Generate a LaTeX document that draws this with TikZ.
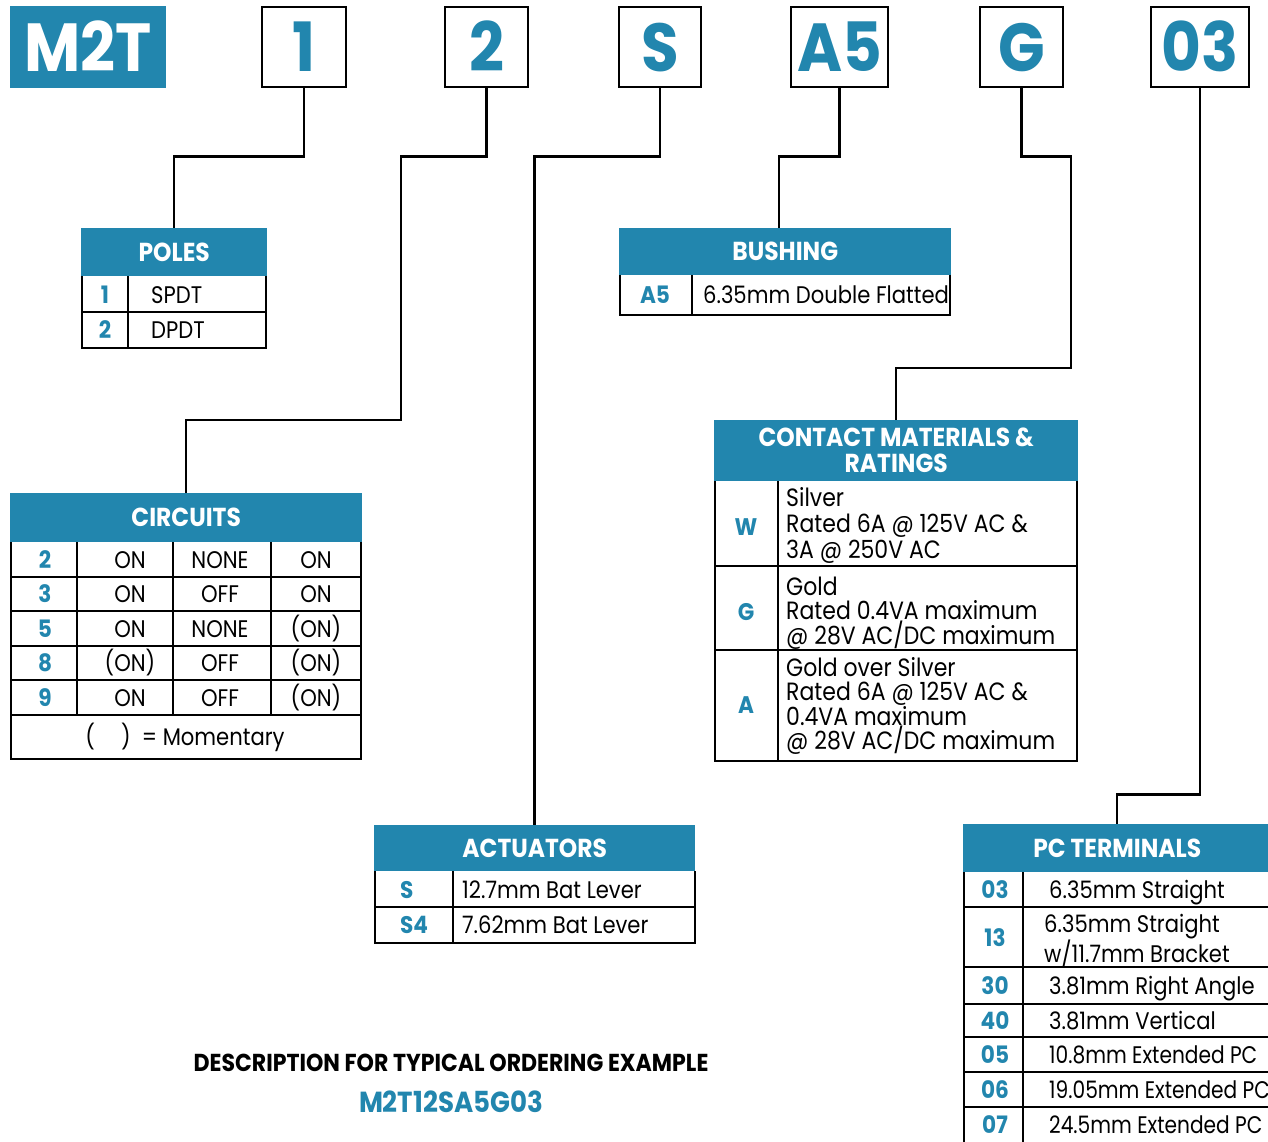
\documentclass[tikz,border=0pt]{standalone}
\usepackage{fontspec}
\setmainfont{Poppins}[UprightFeatures={FakeStretch=0.88}, BoldFeatures={FakeStretch=0.9}]
\newfontfamily\narrowfont{Poppins}[FakeStretch=0.84]
\usetikzlibrary{positioning}
\definecolor{mtblue}{RGB}{34,134,174}

\tikzset{
  codebox/.style={draw, line width=2.5pt, minimum height=80pt, inner sep=0pt, text=mtblue,
    text height=48pt, text depth=0pt, font=\fontsize{68}{68}\selectfont\bfseries},
  head/.style={fill=mtblue, text=white, inner sep=0pt, anchor=north west,
    font=\fontsize{26}{26}\selectfont\bfseries},
  key/.style={text=mtblue, inner sep=0pt, text height=17pt, text depth=0pt,
    font=\fontsize{24}{24}\selectfont\bfseries},
  txt/.style={inner sep=0pt, text height=17pt, text depth=0pt, font=\fontsize{24}{24}\selectfont},
  cell/.style={txt, anchor=west},
  ext/.style={cell, font=\fontsize{24}{24}\narrowfont},
  rated/.style={inner sep=0pt, anchor=west, align=left, font=\fontsize{25}{24.5}\selectfont},
  frame/.style={line width=2.5pt},
  grid/.style={line width=1.5pt},
  wire/.style={line width=2.5pt},
}

\begin{document}
\begin{tikzpicture}[x=1pt,y=-1pt]
  \useasboundingbox (0,0) rectangle (1268,1141);

  % part number
  \node[fill=mtblue, text=white, minimum width=156pt, minimum height=82pt, inner sep=0pt,
    text height=48pt, text depth=0pt, font=\fontsize{68}{68}\selectfont\bfseries] (m2t) at (88,47) {M2T};
  \node[codebox, minimum width=84pt] (c1) at (304,47) {1};
  \node[codebox, minimum width=83pt] (c2) at (486.5,47) {2};
  \node[codebox, minimum width=82pt] (cS) at (660,47) {S};
  \node[codebox, minimum width=97pt] (cA) at (839.5,47) {A5};
  \node[codebox, minimum width=83pt] (cG) at (1021.5,47) {G};
  \node[codebox, minimum width=98pt] (c03) at (1200,47) {03};

  % poles
  \node[head, minimum width=186pt, minimum height=48pt] (poles) at (81,228) {POLES};
  \draw[frame] (82,276) -- (82,348) -- (266,348) -- (266,276);
  \draw[grid] (128,276) -- (128,348) (82,312) -- (266,312);
  \node[key] (p1) at (105,295) {1};
  \node[cell] (p1t) at (151,295) {SPDT};
  \node[key] (p2) at (105,330) {2};
  \node[cell] (p2t) at (151,330) {DPDT};

  % bushing
  \node[head, minimum width=332pt, minimum height=47pt] (bush) at (619,228) {BUSHING};
  \draw[frame] (620,275) -- (620,315) -- (950,315) -- (950,275);
  \draw[grid] (692,275) -- (692,315);
  \node[key] (bA5) at (655,295) {A5};
  \node[cell] (bA5t) at (703,295) {6.35mm Double Flatted};

  % circuits
  \node[head, minimum width=352pt, minimum height=49pt] (circ) at (10,493) {CIRCUITS};
  \draw[frame] (11,542) -- (11,759) -- (361,759) -- (361,542);
  \draw[grid] (11,577) -- (361,577) (11,611) -- (361,611) (11,646) -- (361,646)
    (11,680) -- (361,680) (11,715) -- (361,715)
    (77,542) -- (77,715) (173,542) -- (173,715) (271,542) -- (271,715);
  \node[key] (k2) at (45,559.5) {2};
  \node[txt] (k2a) at (130,559.5) {ON};
  \node[txt] (k2b) at (220,559.5) {NONE};
  \node[txt] (k2c) at (316,559.5) {ON};
  \node[key] (k3) at (45,594) {3};
  \node[txt] (k3a) at (130,594) {ON};
  \node[txt] (k3b) at (220,594) {OFF};
  \node[txt] (k3c) at (316,594) {ON};
  \node[key] (k5) at (45,628.5) {5};
  \node[txt] (k5a) at (130,628.5) {ON};
  \node[txt] (k5b) at (220,628.5) {NONE};
  \node[txt] (k5c) at (316,628.5) {(ON)};
  \node[key] (k8) at (45,663) {8};
  \node[txt] (k8a) at (130,663) {(ON)};
  \node[txt] (k8b) at (220,663) {OFF};
  \node[txt] (k8c) at (316,663) {(ON)};
  \node[key] (k9) at (45,697.5) {9};
  \node[txt] (k9a) at (130,697.5) {ON};
  \node[txt] (k9b) at (220,697.5) {OFF};
  \node[txt] (k9c) at (316,697.5) {(ON)};
  \node[txt] (mom) at (185,737) {(\hspace{26pt})\ \ = Momentary};

  % actuators
  \node[head, minimum width=321pt, minimum height=46pt] (act) at (374,825) {ACTUATORS};
  \draw[frame] (375,871) -- (375,943) -- (695,943) -- (695,871);
  \draw[grid] (375,907) -- (695,907) (453,871) -- (453,943);
  \node[key, anchor=west] (aS) at (400,890) {S};
  \node[cell] (aSt) at (462,890) {12.7mm Bat Lever};
  \node[key, anchor=west] (aS4) at (400,925) {S4};
  \node[cell] (aS4t) at (462,925) {7.62mm Bat Lever};

  % contact materials
  \node[head, minimum width=364pt, minimum height=61pt, align=center] (cont) at (714,420)
    {CONTACT MATERIALS \&\\RATINGS};
  \draw[frame] (715,481) -- (715,761) -- (1077,761) -- (1077,481);
  \draw[grid] (715,566) -- (1077,566) (715,650) -- (1077,650) (778,481) -- (778,761);
  \node[key] (mW) at (746,527) {W};
  \node[rated, font=\fontsize{25}{26}\selectfont] (mWt) at (786,525) {Silver\\Rated 6A @ 125V AC \&\\3A @ 250V AC};
  \node[key] (mG) at (746,612) {G};
  \node[rated] (mGt) at (786,613) {Gold\\Rated 0.4VA maximum\\@ 28V AC/DC maximum};
  \node[key] (mA) at (746,705) {A};
  \node[rated] (mAt) at (786,706) {Gold over Silver\\Rated 6A @ 125V AC \&\\0.4VA maximum\\@ 28V AC/DC maximum};

  % pc terminals
  \node[head, minimum width=308pt, minimum height=48pt] (pc) at (963,824) {PC TERMINALS};
  \draw[frame] (964,872) -- (964,1145) (1271,872) -- (1271,1145);
  \draw[grid] (964,907) -- (1271,907) (964,967) -- (1271,967) (964,1004) -- (1271,1004)
    (964,1037) -- (1271,1037) (964,1072) -- (1271,1072) (964,1107) -- (1271,1107)
    (1023,872) -- (1023,1145);
  \node[key] (t03) at (995,890) {03};
  \node[cell] (t03t) at (1049,890) {6.35mm Straight};
  \node[key] (t13) at (995,938) {13};
  \node[rated, font=\fontsize{24}{26}\selectfont] (t13t) at (1044,940) {6.35mm Straight\\w/11.7mm Bracket};
  \node[key] (t30) at (995,986) {30};
  \node[cell] (t30t) at (1049,986) {3.81mm Right Angle};
  \node[key] (t40) at (995,1021) {40};
  \node[cell] (t40t) at (1049,1021) {3.81mm Vertical};
  \node[key] (t05) at (995,1055) {05};
  \node[ext] (t05t) at (1049,1055) {10.8mm Extended PC};
  \node[key] (t06) at (995,1090) {06};
  \node[ext] (t06t) at (1049,1090) {19.05mm Extended PC};
  \node[key] (t07) at (995,1125) {07};
  \node[ext] (t07t) at (1049,1125) {24.5mm Extended PC};

  % ordering example
  \node[inner sep=0pt, font=\fontsize{24.5}{24.5}\selectfont\bfseries] (desc) at (451,1063)
    {DESCRIPTION FOR TYPICAL ORDERING EXAMPLE};
  \node[key, font=\fontsize{29}{29}\selectfont\bfseries] (ex) at (451,1104) {M2T12SA5G03};

  % connectors
  \draw[wire] (c1.south) -- ++(0,68) -| (poles.north);
  \draw[wire] (c2.south) -- ++(0,68) -| (401,420) -| (circ.north);
  \draw[wire] (cS.south) -- ++(0,68) -| (act.north);
  \draw[wire] (cA.south) -- ++(0,68) -| ([xshift=-6pt]bush.north);
  \draw[wire] (cG.south) -- ++(0,68) -| (1071,368) -| (cont.north);
  \draw[wire] (c03.south) -- ++(0,706) -| (pc.north);
\end{tikzpicture}
\end{document}
